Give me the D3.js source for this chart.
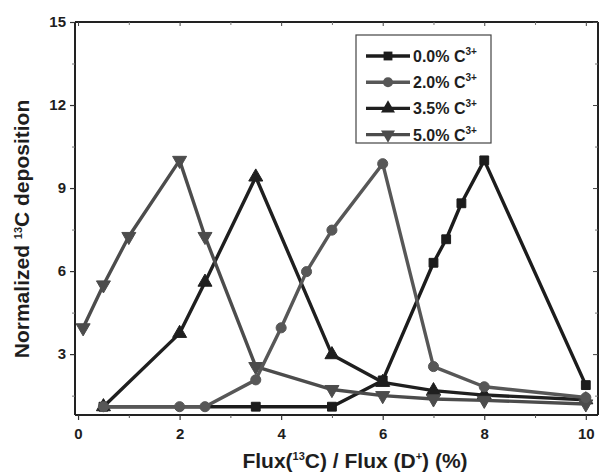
<!DOCTYPE html>
<html>
<head>
<meta charset="utf-8">
<script src="https://cdn.jsdelivr.net/npm/d3@7"></script>
<style>
  body { margin: 0; background: #fff; }
  svg text { font-family: "Liberation Sans", Arial, sans-serif; font-weight: bold; fill: #1e1e1e; }
</style>
</head>
<body>
<div id="chart"></div>
<script>
// values
const s00x = [0.5, 3.5, 5, 6, 7, 7.25, 7.55, 8, 10];
const s00y = [1.1, 1.1, 1.1, 2.05, 6.3, 7.15, 8.45, 10.0, 1.88];
const s20x = [0.5, 2, 2.5, 3.5, 4, 4.5, 5, 6, 7, 8, 10];
const s20y = [1.1, 1.1, 1.1, 2.07, 3.95, 5.98, 7.48, 9.88, 2.55, 1.82, 1.43];
const s35x = [0.5, 2, 2.5, 3.5, 5, 6, 7, 8, 10];
const s35y = [1.1, 3.75, 5.6, 9.4, 2.98, 1.98, 1.68, 1.52, 1.35];
const s50x = [0.1, 0.5, 1, 2, 2.5, 3.5, 5, 6, 7, 8, 10];
const s50y = [3.95, 5.5, 7.25, 10.0, 7.25, 2.55, 1.72, 1.5, 1.38, 1.33, 1.2];

const seriesNames = ["0.0%", "2.0%", "3.5%", "5.0%"];
const xMajor = [0, 2, 4, 6, 8, 10];
const xMinor = [1, 3, 5, 7, 9];
const yMajor = [3, 6, 9, 12, 15];
const yMinor = [1.5, 4.5, 7.5, 10.5, 13.5];

const W = 601, H = 474;
const pL = 75, pR = 598, pT = 22, pB = 415;

const svg = d3.select("#chart").append("svg")
    .attr("width", W).attr("height", H);

const x = d3.scaleLinear().domain([-0.06, 10.24]).range([pL, pR]);
const y = d3.scaleLinear().domain([0.8, 15]).range([pB, pT]);

const series = [
    { name: seriesNames[0], xs: s00x, ys: s00y, color: "#1c1c1c", symbol: d3.symbolSquare, size: 78, rot: 0 },
    { name: seriesNames[1], xs: s20x, ys: s20y, color: "#575757", symbol: d3.symbolCircle, size: 80, rot: 0 },
    { name: seriesNames[2], xs: s35x, ys: s35y, color: "#1f1f1f", symbol: d3.symbolTriangle, size: 85, rot: 0 },
    { name: seriesNames[3], xs: s50x, ys: s50y, color: "#4c4c4c", symbol: d3.symbolTriangle, size: 85, rot: 180 }
];

// axes frame
const frame = svg.append("g").attr("stroke", "#222").attr("stroke-width", 2);
frame.append("line").attr("x1", pL).attr("x2", pR).attr("y1", pB).attr("y2", pB);
frame.append("line").attr("x1", pL).attr("x2", pR).attr("y1", pT).attr("y2", pT);
frame.append("line").attr("x1", pL).attr("x2", pL).attr("y1", pT).attr("y2", pB);
frame.append("line").attr("x1", pR).attr("x2", pR).attr("y1", pT).attr("y2", pB);

// bottom axis
const xAxis = d3.axisBottom(x).tickValues(xMajor).tickSize(5).tickPadding(8).tickFormat(d3.format("d"));
const gx = svg.append("g").attr("transform", `translate(0,${pB})`).call(xAxis);
gx.select(".domain").remove();
gx.selectAll("line").attr("stroke", "#333").attr("stroke-width", 1.2);
gx.selectAll("text").style("font-size", "15px").style("font-family", "Liberation Sans, Arial").style("font-weight", "bold");
svg.append("g").attr("transform", `translate(0,${pB})`)
    .call(d3.axisBottom(x).tickValues(xMinor).tickSize(3).tickFormat(""))
    .call(g => g.select(".domain").remove())
    .selectAll("line").attr("stroke", "#555");

// top mirror ticks
svg.append("g").attr("transform", `translate(0,${pT})`)
    .call(d3.axisBottom(x).tickValues(xMajor).tickSize(4).tickFormat(""))
    .call(g => g.select(".domain").remove())
    .selectAll("line").attr("stroke", "#444");
svg.append("g").attr("transform", `translate(0,${pT})`)
    .call(d3.axisBottom(x).tickValues(xMinor).tickSize(3).tickFormat(""))
    .call(g => g.select(".domain").remove())
    .selectAll("line").attr("stroke", "#777");

// left axis
const yAxis = d3.axisLeft(y).tickValues(yMajor).tickSize(5).tickPadding(4).tickFormat(d3.format("d"));
const gy = svg.append("g").attr("transform", `translate(${pL},0)`).call(yAxis);
gy.select(".domain").remove();
gy.selectAll("line").attr("stroke", "#333").attr("stroke-width", 1.2);
gy.selectAll("text").style("font-size", "15px").style("font-family", "Liberation Sans, Arial").style("font-weight", "bold");
svg.append("g").attr("transform", `translate(${pL},0)`)
    .call(d3.axisLeft(y).tickValues(yMinor).tickSize(3).tickFormat(""))
    .call(g => g.select(".domain").remove())
    .selectAll("line").attr("stroke", "#777");

// right mirror ticks
svg.append("g").attr("transform", `translate(${pR},0)`)
    .call(d3.axisRight(y).tickValues(yMajor).tickSize(-5).tickFormat(""))
    .call(g => g.select(".domain").remove())
    .selectAll("line").attr("stroke", "#444");
svg.append("g").attr("transform", `translate(${pR},0)`)
    .call(d3.axisRight(y).tickValues(yMinor).tickSize(-3).tickFormat(""))
    .call(g => g.select(".domain").remove())
    .selectAll("line").attr("stroke", "#777");

// lines and markers
const line = d3.line().x(d => x(d[0])).y(d => y(d[1]));
const drawOrder = [0, 2, 3, 1];
drawOrder.forEach(i => {
    const s = series[i];
    const pts = s.xs.map((v, k) => [v, s.ys[k]]);
    svg.append("path").datum(pts)
        .attr("d", line)
        .attr("fill", "none")
        .attr("stroke", s.color)
        .attr("stroke-width", 3.4)
        .attr("stroke-linejoin", "round");
    svg.append("g").selectAll("path").data(pts).enter().append("path")
        .attr("d", d3.symbol().type(s.symbol).size(s.size))
        .attr("transform", d => `translate(${x(d[0])},${y(d[1])}) rotate(${s.rot})`)
        .attr("fill", s.color)
        .attr("stroke", s.color)
        .attr("stroke-width", 1);
});

// legend
const lg = svg.append("g");
lg.append("rect")
    .attr("x", 356).attr("y", 35).attr("width", 135).attr("height", 108)
    .attr("fill", "#fff").attr("stroke", "#444").attr("stroke-width", 1.2);
series.forEach((s, i) => {
    const ly = 56 + i * 26.2;
    lg.append("line").attr("x1", 366).attr("x2", 410).attr("y1", ly).attr("y2", ly)
        .attr("stroke", s.color).attr("stroke-width", 3.4);
    lg.append("path")
        .attr("d", d3.symbol().type(s.symbol).size(s.size))
        .attr("transform", `translate(388,${ly}) rotate(${s.rot})`)
        .attr("fill", s.color);
    const t = lg.append("text").attr("x", 413).attr("y", ly + 6).style("font-size", "16px");
    t.append("tspan").text(s.name + " C");
    t.append("tspan").text("3+").attr("dy", -7).style("font-size", "10px");
});

// axis titles
const xt = svg.append("text").attr("x", 355).attr("y", 468).attr("text-anchor", "middle").style("font-size", "21px");
xt.append("tspan").text("Flux(");
xt.append("tspan").text("13").attr("dy", -8).style("font-size", "11px");
xt.append("tspan").text("C) / Flux (D").attr("dy", 8);
xt.append("tspan").text("+").attr("dy", -8).style("font-size", "11px");
xt.append("tspan").text(") (%)").attr("dy", 8);

const yt = svg.append("text")
    .attr("transform", `translate(29,229) rotate(-90)`)
    .attr("text-anchor", "middle").style("font-size", "21px");
yt.append("tspan").text("Normalized ");
yt.append("tspan").text("13").attr("dy", -7).style("font-size", "11px");
yt.append("tspan").text("C deposition").attr("dy", 7);
</script>
</body>
</html>
